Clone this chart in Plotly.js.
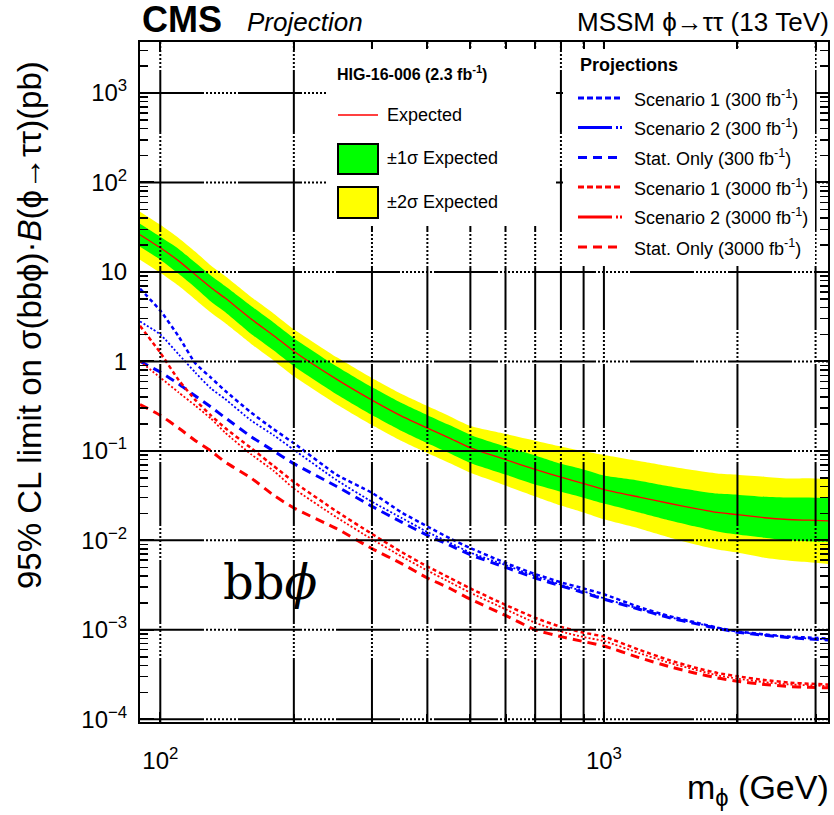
<!DOCTYPE html>
<html>
<head>
<meta charset="utf-8">
<script src="https://cdn.plot.ly/plotly-3.0.1.min.js"></script>
<style>html,body{margin:0;padding:0;background:#fff;}#chart{width:834px;height:815px;}</style>
</head>
<body>
<div id="chart"></div>
<script>
// ---------------- data ----------------
const mass = [90,100,110,120,130,140,160,180,200,250,300,350,400,450,500,600,700,800,900,1000,1200,1400,1600,1800,2000,2300,2600,2900,3200];

const expected = [26,18.6,13.3,9.3,6.7,5.1,3.0,1.95,1.3,0.63,0.37,0.245,0.18,0.138,0.108,0.080,0.062,0.051,0.043,0.037,0.0305,0.026,0.0228,0.0205,0.0194,0.0179,0.0171,0.0168,0.0165];
const sigma1Up = [34.5,24.7,18.1,12.67,9.13,6.95,4.19,2.72,1.82,0.880,0.517,0.342,0.251,0.193,0.151,0.112,0.0889,0.0717,0.062,0.053,0.0465,0.0403,0.0362,0.0334,0.0324,0.0307,0.0301,0.0302,0.0298];
const sigma1Down = [19.1,13.7,9.52,6.66,4.67,3.56,2.04,1.33,0.884,0.428,0.252,0.167,0.122,0.0938,0.0734,0.0544,0.0421,0.0349,0.030,0.0258,0.0205,0.0168,0.01435,0.01257,0.0116,0.0107,0.00997,0.00979,0.00962];
const sigma2Up = [47.0,33.6,24.0,16.8,11.8,8.99,5.29,3.44,2.29,1.11,0.652,0.432,0.317,0.243,0.190,0.155,0.130,0.112,0.099,0.090,0.077,0.0674,0.0606,0.0559,0.0542,0.0514,0.0491,0.0495,0.0486];
const sigma2Down = [13.7,9.78,6.99,4.89,3.52,2.68,1.58,1.025,0.683,0.331,0.195,0.129,0.0946,0.0726,0.0568,0.0410,0.0310,0.0245,0.0205,0.0172,0.0136,0.01084,0.00903,0.00791,0.00730,0.0064,0.00596,0.0057,0.00546];

const scen1_300 = [6.5,3.7,1.9,0.95,0.66,0.47,0.27,0.175,0.122,0.054,0.034,0.0205,0.0143,0.0105,0.0082,0.0056,0.0042,0.0034,0.0029,0.0025,0.0018,0.00143,0.00122,0.00106,0.00096,0.00089,0.00084,0.00082,0.00080];
const scen2_300 = [2.8,2.0,1.2,0.75,0.5,0.38,0.22,0.15,0.103,0.047,0.027,0.0178,0.0124,0.0094,0.0073,0.0053,0.0040,0.0032,0.0027,0.00225,0.00172,0.00139,0.0012,0.00105,0.00095,0.00088,0.00083,0.0008,0.00078];
const stat_300 = [1.0,0.76,0.56,0.41,0.31,0.235,0.145,0.1,0.072,0.04,0.024,0.016,0.0114,0.0088,0.0069,0.0050,0.0038,0.0031,0.0026,0.0022,0.0017,0.00137,0.00118,0.00104,0.00094,0.00087,0.00082,0.00079,0.00077];

const scen1_3000 = [2.5,1.25,0.62,0.37,0.25,0.18,0.108,0.068,0.045,0.021,0.0118,0.0074,0.0051,0.0038,0.0029,0.0019,0.00136,0.00108,0.00093,0.00084,0.0006,0.00046,0.00038,0.00033,0.000303,0.000275,0.000258,0.00025,0.000245];
const scen2_3000 = [1.0,0.66,0.45,0.32,0.23,0.16,0.092,0.06,0.038,0.018,0.0103,0.0066,0.0046,0.0034,0.0026,0.0017,0.0012,0.00096,0.00083,0.00075,0.00055,0.00043,0.00036,0.00031,0.000285,0.00026,0.000246,0.00024,0.000235];
const stat_3000 = [0.33,0.25,0.18,0.13,0.1,0.075,0.05,0.032,0.023,0.0135,0.0081,0.0055,0.0038,0.0029,0.0022,0.00145,0.001,0.00084,0.00074,0.00066,0.00049,0.00039,0.00033,0.00029,0.000267,0.000245,0.000233,0.000228,0.000225];

// axis ticks / labels
const xLabelVals = [100,1000];
const xLabelText = ['10<sup>2</sup>','10<sup>3</sup>'];
const xMinorVals = [200,300,400,500,600,700,800,900,2000,3000];
const yTickVals = [1e-4,1e-3,1e-2,1e-1,1,10,100,1000];
const yTickText = ['10<sup>−4</sup>','10<sup>−3</sup>','10<sup>−2</sup>','10<sup>−1</sup>','1','10','10<sup>2</sup>','10<sup>3</sup>'];

const legendLeftTitle = 'HIG-16-006 (2.3 fb<sup>-1</sup>)';
const legendLeftLabels = ['Expected','±1σ Expected','±2σ Expected'];
const legendRightTitle = 'Projections';
const legendRightLabels = ['Scenario 1 (300 fb<sup>-1</sup>)','Scenario 2 (300 fb<sup>-1</sup>)','Stat. Only (300 fb<sup>-1</sup>)',
                           'Scenario 1 (3000 fb<sup>-1</sup>)','Scenario 2 (3000 fb<sup>-1</sup>)','Stat. Only (3000 fb<sup>-1</sup>)'];

// ---------------- styling ----------------
const W = 834, H = 815, ML = 140, MR = 6, MT = 42, MB = 93;
const PW = W - ML - MR, PH = H - MT - MB;
const px = v => (v - ML) / PW;          // pixel -> paper x
const py = v => (H - MB - v) / PH;      // pixel -> paper y
const FONT = 'Liberation Sans, Arial, Helvetica, sans-serif';
const BLUE = '#0000ff', RED = '#ff0000';
const DASH_S1 = '4px,3px', DASH_S2 = '2px,2px', DASH_STAT = '9px,6px';
const gridDash = '64px,2px,2px,2px,2px,2px,2px,2px,2px,2px,2px,2px,2px,2px,2px,2px,2px,2px';
const SM = {shape:'spline', smoothing:0.5};

const traces = [
  {x: mass, y: sigma2Down, mode:'lines', line:Object.assign({width:0}, SM), showlegend:false, hoverinfo:'skip'},
  {x: mass, y: sigma2Up, mode:'lines', line:Object.assign({width:0}, SM), fill:'tonexty', fillcolor:'#ffff00', name:'±2σ Expected', showlegend:false},
  {x: mass, y: sigma1Down, mode:'lines', line:Object.assign({width:0}, SM), showlegend:false, hoverinfo:'skip'},
  {x: mass, y: sigma1Up, mode:'lines', line:Object.assign({width:0}, SM), fill:'tonexty', fillcolor:'#00ff00', name:'±1σ Expected', showlegend:false},
  {x: mass, y: expected, mode:'lines', line:Object.assign({color:RED, width:1.3}, SM), name:'Expected', showlegend:false},
  {x: mass, y: scen2_300, mode:'lines', line:Object.assign({color:BLUE, width:1.8, dash:DASH_S2}, SM), name:'Scenario 2 (300 fb-1)', showlegend:false},
  {x: mass, y: stat_300, mode:'lines', line:Object.assign({color:BLUE, width:3, dash:DASH_STAT}, SM), name:'Stat. Only (300 fb-1)', showlegend:false},
  {x: mass, y: scen1_300, mode:'lines', line:Object.assign({color:BLUE, width:2.5, dash:DASH_S1}, SM), name:'Scenario 1 (300 fb-1)', showlegend:false},
  {x: mass, y: scen2_3000, mode:'lines', line:Object.assign({color:RED, width:1.8, dash:DASH_S2}, SM), name:'Scenario 2 (3000 fb-1)', showlegend:false},
  {x: mass, y: stat_3000, mode:'lines', line:Object.assign({color:RED, width:3, dash:DASH_STAT}, SM), name:'Stat. Only (3000 fb-1)', showlegend:false},
  {x: mass, y: scen1_3000, mode:'lines', line:Object.assign({color:RED, width:2.5, dash:DASH_S1}, SM), name:'Scenario 1 (3000 fb-1)', showlegend:false}
];

// minor y ticks (2..9 x 10^n)
const yMinor = [];
for (let d = -4; d <= 3; d++) for (let k = 2; k <= 9; k++) yMinor.push(k * Math.pow(10, d));

const shapes = [];
// grid lines drawn above the bands, as in the reference
xLabelVals.concat(xMinorVals).forEach(v => shapes.push({type:'line', xref:'x', yref:'paper', x0:v, x1:v, y0:0, y1:1, layer:'above', line:{color:'black', width:2, dash:gridDash}}));
yTickVals.forEach(v => shapes.push({type:'line', xref:'paper', yref:'y', x0:0, x1:1, y0:v, y1:v, layer:'above', line:{color:'black', width:2, dash:gridDash}}));
function rectPx(x0, y0, x1, y1, fill, lineColor, lw) {
  return {type:'rect', xref:'paper', yref:'paper', x0:px(x0), x1:px(x1), y0:py(y1), y1:py(y0), layer:'above',
          fillcolor:fill, line:{color:lineColor || fill, width: lw || 0}};
}
function linePx(x0, x1, y, color, width, dash) {
  return {type:'line', xref:'paper', yref:'paper', x0:px(x0), x1:px(x1), y0:py(y), y1:py(y), layer:'above',
          line:{color:color, width:width, dash:dash || 'solid'}};
}
// legend backgrounds
shapes.push(rectPx(328, 49, 556, 226, '#ffffff'));
shapes.push(rectPx(563, 49, 815, 266, '#ffffff'));
// left legend symbols
shapes.push(linePx(338, 378, 115, RED, 1.5));
shapes.push(rectPx(338, 144, 378, 174, '#00ff00', 'black', 2));
shapes.push(rectPx(338, 187, 378, 218, '#ffff00', 'black', 2));
// right legend symbols
const rightY = [98, 127.5, 157.5, 187, 217, 247];
const rightColors = [BLUE, BLUE, BLUE, RED, RED, RED];
const rightDash = ['6px,3px', '34px,4px,2px,2px,2px,4px', '9px,6px', '6px,3px', '34px,4px,2px,2px,2px,4px', '9px,6px'];
rightY.forEach((y, i) => shapes.push(linePx(578, 623, y, rightColors[i], 3, rightDash[i])));

const annotations = [];
function textPx(x, y, text, size, opts) {
  annotations.push(Object.assign({xref:'paper', yref:'paper', x:px(x), y:py(y), text:text, showarrow:false,
    xanchor:'left', yanchor:'middle', font:{family:FONT, size:size, color:'black'}}, opts || {}));
}
textPx(140, 20, '<b>CMS</b>', 36);
textPx(245, 22, '<i>Projection</i>', 26);
textPx(831, 22, 'MSSM ϕ→ττ (13 TeV)', 26, {xanchor:'right'});
textPx(29, 325, '95% CL limit on σ(bbϕ)·<i>B</i>(ϕ→ττ)(pb)', 33, {xanchor:'center', textangle:-90});
textPx(831, 789, 'm<sub>ϕ</sub> (GeV)', 34, {xanchor:'right'});
textPx(270, 582, 'bb<i>ϕ</i>', 48, {xanchor:'center', font:{family:'DejaVu Serif, serif', size:48, color:'black'}});
textPx(335, 73, '<b>' + legendLeftTitle + '</b>', 16);
[115, 158, 202].forEach((y, i) => textPx(385, y, legendLeftLabels[i], 18));
textPx(578, 65, '<b>' + legendRightTitle + '</b>', 18);
rightY.forEach((y, i) => textPx(632, y, legendRightLabels[i], 18));

const layout = {
  width: W, height: H,
  margin: {l:ML, r:MR, t:MT, b:MB, pad:0},
  paper_bgcolor: '#ffffff', plot_bgcolor: '#ffffff',
  showlegend: false,
  font: {family: FONT, color: 'black'},
  xaxis: {
    type: 'log', range: [Math.log10(90), Math.log10(3200)],
    tickmode: 'array', tickvals: xLabelVals, ticktext: xLabelText,
    ticks: 'inside', ticklen: 10, tickwidth: 2, tickcolor: 'black',
    minor: {tickmode: 'array', tickvals: xMinorVals, ticks: 'inside', ticklen: 8, tickwidth: 2, tickcolor: 'black', showgrid: false},
    showgrid: false, zeroline: false,
    showline: true, linecolor: 'black', linewidth: 2, mirror: 'ticks',
    tickfont: {family: FONT, size: 24, color: 'black'},
    ticklabelstandoff: 16
  },
  yaxis: {
    type: 'log', range: [-4.03, 3.57],
    tickmode: 'array', tickvals: yTickVals, ticktext: yTickText,
    ticks: 'inside', ticklen: 14, tickwidth: 2, tickcolor: 'black',
    minor: {tickmode: 'array', tickvals: yMinor, ticks: 'inside', ticklen: 8, tickwidth: 1.5, tickcolor: 'black', showgrid: false},
    showgrid: false, zeroline: false,
    showline: true, linecolor: 'black', linewidth: 2, mirror: 'ticks',
    tickfont: {family: FONT, size: 24, color: 'black'},
    ticklabelstandoff: 6
  },
  shapes: shapes,
  annotations: annotations
};

Plotly.newPlot('chart', traces, layout, {displayModeBar: false, staticPlot: true});
</script>
</body>
</html>
